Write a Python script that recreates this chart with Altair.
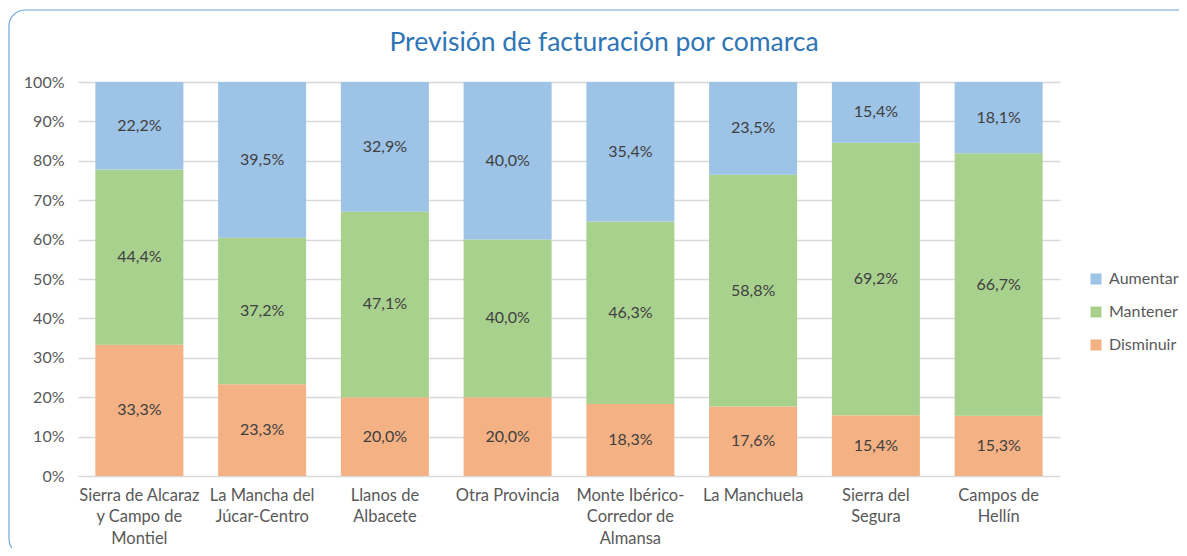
import altair as alt
import pandas as pd

comarcas = [
    "Sierra de Alcaraz|y Campo de|Montiel",
    "La Mancha del|Júcar-Centro",
    "Llanos de|Albacete",
    "Otra Provincia",
    "Monte Ibérico-|Corredor de|Almansa",
    "La Manchuela",
    "Sierra del|Segura",
    "Campos de|Hellín",
]
disminuir = [33.3, 23.3, 20.0, 20.0, 18.3, 17.6, 15.4, 15.3]
mantener = [44.4, 37.2, 47.1, 40.0, 46.3, 58.8, 69.2, 66.7]
aumentar = [22.2, 39.5, 32.9, 40.0, 35.4, 23.5, 15.4, 18.1]
series = ["Aumentar", "Mantener", "Disminuir"]
colors = ["#9DC3E6", "#A9D18E", "#F4B183"]
titulo = "Previsión de facturación por comarca"

rows = []
for i, c in enumerate(comarcas):
    for s, vals, o in (("Disminuir", disminuir, 0), ("Mantener", mantener, 1), ("Aumentar", aumentar, 2)):
        v = vals[i]
        rows.append({"comarca": c, "serie": s, "valor": v, "orden": o,
                     "etiqueta": f"{v:.1f}%".replace(".", ",")})
df = pd.DataFrame(rows)

FONT = "Lato"

base = alt.Chart(df).transform_stack(
    stack="valor", groupby=["comarca"], as_=["y0", "y1"],
    sort=[alt.SortField("orden", order="ascending")], offset="normalize"
).transform_calculate(mid="(datum.y0 + datum.y1) / 2")

xscale = alt.Scale(paddingInner=0.283, paddingOuter=0.1415)
xaxis = alt.Axis(labelExpr="split(datum.label, '|')", labelAngle=0,
                 labelFontSize=16.5, labelLineHeight=21.5, labelColor="#595959",
                 labelFont=FONT, ticks=False, domain=False, labelPadding=11,
                 labelBaseline="top", labelOverlap=False)
yscale = alt.Scale(domain=[0, 1])
yaxis = alt.Axis(values=[i / 10 for i in range(11)], format=".0%",
                 grid=True, gridColor="#D9D9D9", gridWidth=1.3,
                 domain=False, ticks=False, labelFontSize=16,
                 labelColor="#595959", labelFont=FONT, labelPadding=14,
                 labelOverlap=False)

bars = base.mark_bar().encode(
    x=alt.X("comarca:N", sort=comarcas, title=None, scale=xscale, axis=xaxis),
    y=alt.Y("y0:Q", title=None, scale=yscale, axis=yaxis),
    y2="y1:Q",
    color=alt.Color("serie:N", scale=alt.Scale(domain=series, range=colors),
                    legend=alt.Legend(title=None, orient="none", legendX=1010, legendY=189,
                                      symbolType="square", symbolSize=121,
                                      symbolStrokeWidth=0, labelOffset=5,
                                      labelFontSize=16, labelColor="#595959",
                                      labelFont=FONT, rowPadding=17)),
)

texts = base.mark_text(fontSize=16, color="#404040", font=FONT).encode(
    x=alt.X("comarca:N", sort=comarcas, title=None, scale=xscale, axis=xaxis),
    y=alt.Y("mid:Q", title=None, scale=yscale, axis=yaxis),
    text="etiqueta:N",
)

border = alt.Chart(pd.DataFrame({"a": [0]})).mark_rect(
    fillOpacity=0, stroke="#6FA8DC", strokeWidth=1.2, cornerRadius=16
).encode(x=alt.value(-69), x2=alt.value(1115), y=alt.value(-72), y2=alt.value(473))

title = alt.Chart(pd.DataFrame({"t": [titulo]})).mark_text(
    fontSize=26.5, font=FONT, color="#2E75B6", baseline="middle", align="center"
).encode(text="t:N", x=alt.value(526), y=alt.value(-39))

chart = alt.layer(border, bars, texts, title).properties(
    width=982, height=394,
    padding={"left": 70, "top": 74, "right": 119, "bottom": 72},
    autosize=alt.AutoSizeParams(type="none"),
).configure_view(stroke=None)

chart.save("out.html", embed_options={"renderer": "svg", "actions": False})
